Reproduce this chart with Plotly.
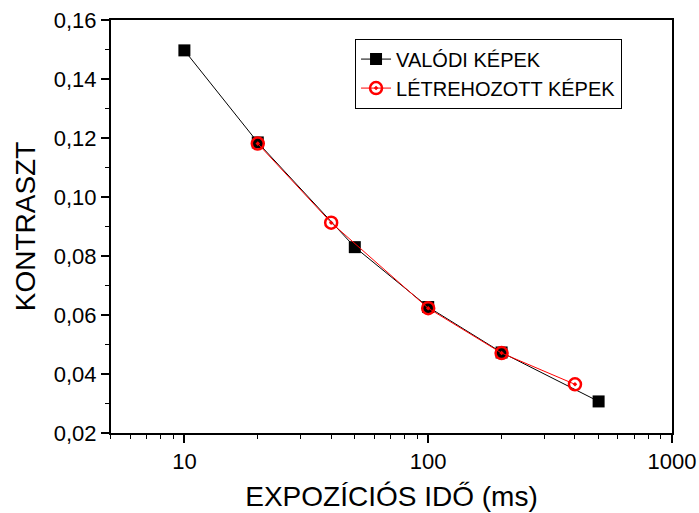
import plotly.graph_objects as go

real_x = [10, 20, 50, 100, 200, 500]
real_y = [0.1497, 0.1185, 0.0830, 0.0627, 0.0473, 0.0307]
gen_x = [20, 40, 100, 200, 400]
gen_y = [0.1181, 0.0913, 0.0623, 0.0471, 0.0365]

font_family = "Liberation Sans, Arial, sans-serif"

fig = go.Figure()
fig.add_trace(go.Scatter(
    x=real_x, y=real_y, mode="lines+markers", name="VALÓDI KÉPEK",
    line=dict(color="black", width=1),
    marker=dict(symbol="square", size=12, color="black"),
))
fig.add_trace(go.Scatter(
    x=gen_x, y=gen_y, mode="lines+markers", name="LÉTREHOZOTT KÉPEK",
    line=dict(color="red", width=1),
    marker=dict(symbol="circle-open-dot", size=12, color="red", line=dict(color="red", width=2.5)),
))

fig.update_layout(
    width=699, height=513,
    margin=dict(l=111, r=27, t=20, b=80, autoexpand=False),
    paper_bgcolor="white", plot_bgcolor="white",
    separators=",.",
    font=dict(family=font_family, color="black", size=22),
    showlegend=True,
    legend=dict(
        x=0.435, y=0.955, xanchor="left", yanchor="top",
        bordercolor="black", borderwidth=1, bgcolor="white",
        font=dict(size=20), tracegroupgap=0, itemwidth=30,
    ),
)
fig.update_xaxes(
    type="log", range=[0.699, 3], automargin=False,
    showgrid=False, zeroline=False,
    showline=True, linecolor="black", linewidth=2, mirror=True,
    ticks="outside", ticklen=8, tickwidth=1.5, tickcolor="black",
    tickvals=[10, 100, 1000], ticktext=["10", "100", "1000"],
    minor=dict(ticks="outside", ticklen=4, tickwidth=1, tickcolor="black",
               tickvals=[5, 6, 7, 8, 9, 20, 30, 40, 50, 60, 70, 80, 90,
                         200, 300, 400, 500, 600, 700, 800, 900]),
    tickfont=dict(size=22),
    title=dict(text="EXPOZÍCIÓS IDŐ (ms)", font=dict(size=28), standoff=13),
)
fig.update_yaxes(
    range=[0.02, 0.16], automargin=False,
    showgrid=False, zeroline=False,
    showline=True, linecolor="black", linewidth=2, mirror=True,
    ticks="outside", ticklen=8, tickwidth=1.5, tickcolor="black",
    tickvals=[0.02, 0.04, 0.06, 0.08, 0.10, 0.12, 0.14, 0.16],
    ticktext=["0,02", "0,04", "0,06", "0,08", "0,10", "0,12", "0,14", "0,16"],
    minor=dict(ticks="outside", ticklen=4, tickwidth=1, tickcolor="black",
               tickvals=[0.03, 0.05, 0.07, 0.09, 0.11, 0.13, 0.15]),
    tickfont=dict(size=22),
    title=dict(text="KONTRASZT", font=dict(size=28), standoff=10),
)

fig.write_html("out.html")
